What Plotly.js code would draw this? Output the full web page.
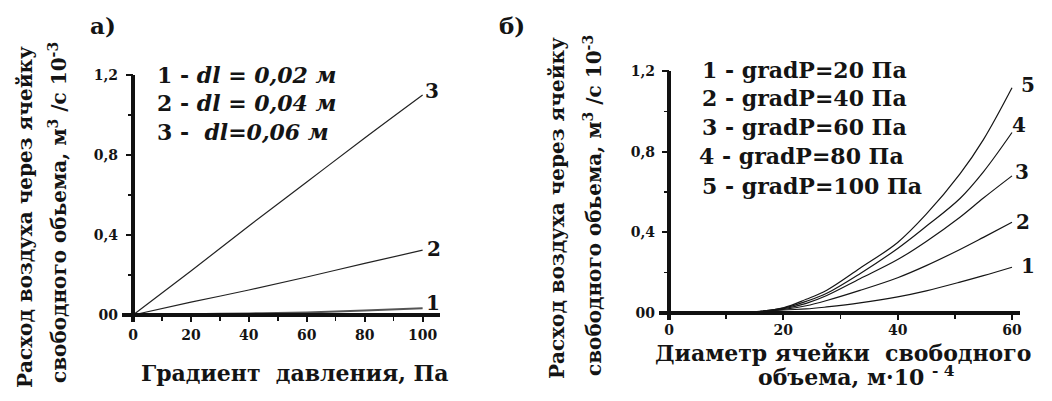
<!DOCTYPE html>
<html>
<head>
<meta charset="utf-8">
<script src="https://cdn.plot.ly/plotly-3.0.1.min.js"></script>
<style>
html,body{margin:0;padding:0;background:#fff;}
#wrap{position:relative;width:1052px;height:401px;}
#chart{width:1052px;height:401px;}
#frame{position:absolute;left:0;top:0;width:1052px;height:401px;pointer-events:none;}
#frame div{position:absolute;background:#111;}
</style>
</head>
<body>
<div id="wrap"><div id="chart"></div><div id="frame"></div></div>
<script>
// ---- Data ----
// Panel a): flow vs pressure gradient
const gradX = [0, 20, 40, 60, 80, 100];
const flowDl002 = [0, 0.004, 0.008, 0.013, 0.022, 0.034];
const flowDl004 = [0, 0.064, 0.125, 0.19, 0.258, 0.324];
const flowDl006 = [0, 0.22, 0.445, 0.665, 0.885, 1.10];
const legendA = ["1 - ", "2 - ", "3 -  "];
const legendAItalic = ["dl = 0,02 м", "dl = 0,04 м", "dl=0,06 м"];

// Panel б): flow vs free-volume cell diameter
const diamX = [13, 20, 24, 27.6, 33.4, 40, 45, 50.9, 55, 60];
const flowP20 = [0, 0.015, 0.02, 0.03, 0.05, 0.08, 0.11, 0.153, 0.185, 0.227];
const flowP40 = [0, 0.018, 0.036, 0.062, 0.112, 0.175, 0.235, 0.315, 0.375, 0.45];
const flowP60 = [0, 0.021, 0.048, 0.087, 0.17, 0.265, 0.355, 0.475, 0.57, 0.68];
const flowP80 = [0, 0.024, 0.058, 0.098, 0.195, 0.32, 0.43, 0.568, 0.70, 0.895];
const flowP100 = [0, 0.026, 0.068, 0.113, 0.222, 0.35, 0.49, 0.69, 0.86, 1.117];
const legendB = ["1 - gradP=20 Па", "2 - gradP=40 Па", "3 - gradP=60 Па", "4 - gradP=80 Па", "5 - gradP=100 Па"];

const yTickVals = [0, 0.4, 0.8, 1.2];
const yTickText = ["00", "0,4", "0,8", "1,2"];
const yMinorVals = [0.2, 0.6, 1.0];
const xTickValsA = [0, 20, 40, 60, 80, 100];
const xMinorValsA = [10, 30, 50, 70, 90];
const xTickValsB = [0, 20, 40, 60];
const xMinorValsB = [10, 30, 50];

// ---- Styling ----
const W = 1052, H = 401;
const SERIF = '"DejaVu Serif", "Liberation Serif", serif';
const INK = '#141414';
const fx = p => p / W;
const fy = p => 1 - p / H;

// plot-area geometry (px) and axis ranges (the area includes room for the axis frame)
const PA = {x0: 122, x1: 440, y0: 75, y1: 322, xr: [-3.8, 106], yr: [-0.035, 1.2]};
const PB = {x0: 659, x1: 1020, y0: 71, y1: 320, xr: [-1.75, 61.4], yr: [-0.0347, 1.2]};

function curve(x, y, xa, ya, color, width) {
  return {x: x, y: y, xaxis: xa, yaxis: ya, type: 'scatter', mode: 'lines',
          line: {color: color, width: width, shape: 'spline', smoothing: 1}, hoverinfo: 'skip'};
}

const traces = [
  curve(gradX, flowDl002, 'x', 'y', '#555', 2),
  curve(gradX, flowDl004, 'x', 'y', '#222', 1.2),
  curve(gradX, flowDl006, 'x', 'y', '#222', 1.2),
  curve(diamX, flowP20, 'x2', 'y2', '#151515', 1.2),
  curve(diamX, flowP40, 'x2', 'y2', '#151515', 1.2),
  curve(diamX, flowP60, 'x2', 'y2', '#151515', 1.2),
  curve(diamX, flowP80, 'x2', 'y2', '#151515', 1.2),
  curve(diamX, flowP100, 'x2', 'y2', '#151515', 1.2)
];

const tickFont = {family: SERIF, size: 14, color: INK, weight: 'bold'};

function xAxis(P, anchor, vals, standoff) {
  return {
    domain: [fx(P.x0), fx(P.x1)], range: P.xr, anchor: anchor,
    showline: false, ticks: '',
    tickmode: 'array', tickvals: vals, ticktext: vals.map(String),
    ticklabelstandoff: standoff,
    showgrid: false, zeroline: false, tickfont: tickFont
  };
}
function yAxis(P, anchor) {
  return {
    domain: [fy(P.y1), fy(P.y0)], range: P.yr, anchor: anchor,
    showline: false, ticks: '',
    tickmode: 'array', tickvals: yTickVals, ticktext: yTickText,
    ticklabelstandoff: 3,
    showgrid: false, zeroline: false, tickfont: tickFont
  };
}

function txt(text, xpx, ypx, size, opts) {
  return Object.assign({
    text: text, x: fx(xpx), y: fy(ypx), xref: 'paper', yref: 'paper',
    showarrow: false, xanchor: 'center', yanchor: 'middle',
    font: {family: SERIF, size: size, color: INK, weight: 'bold'}
  }, opts || {});
}

const annotations = [
  txt('а)', 103, 26, 23),
  txt('б)', 512, 26, 23),
  ...legendA.map((p, i) => txt('<b>' + p + '</b><b><i>' + legendAItalic[i] + '</i></b>', 155, [75, 103, 132][i], 22, {xanchor: 'left'})),
  ...legendB.map((t, i) => txt(t, [700, 700, 700, 697, 700][i], [70, 98, 127, 156, 186][i], 22, {xanchor: 'left'})),
  txt('3', 432, 91, 20), txt('2', 434, 249, 20), txt('1', 433, 303, 20),
  txt('5', 1028, 85, 20), txt('4', 1019, 125, 20), txt('3', 1022, 172, 20),
  txt('2', 1023, 222, 20), txt('1', 1028, 266, 20),
  txt('Расход воздуха через ячейку', 25, 217, 20, {textangle: -90}),
  txt('свободного обьема, м<sup>3</sup> /с 10<sup>-3</sup>', 58, 213, 20, {textangle: -90}),
  txt('Градиент  давления, Па', 295, 373, 22),
  txt('Расход воздуха через ячейку', 557, 208, 20, {textangle: -90}),
  txt('свободного обьема, м<sup>3</sup> /с 10<sup>-3</sup>', 593, 206, 20, {textangle: -90}),
  txt('Диаметр ячейки  свободного', 843, 353, 22),
  txt('объема, м·10 <sup>- 4</sup>', 856, 376, 22)
];

const layout = {
  width: W, height: H,
  margin: {l: 0, r: 0, t: 0, b: 0},
  showlegend: false,
  xaxis: xAxis(PA, 'y', xTickValsA, 3),
  yaxis: yAxis(PA, 'x'),
  xaxis2: xAxis(PB, 'y2', xTickValsB, 0),
  yaxis2: yAxis(PB, 'x2'),
  annotations: annotations
};

// Axis frame (lines through the origin + major/minor ticks), placed with Plotly's own axis scales
function drawFrame(gd) {
  const fl = gd._fullLayout;
  const frame = document.getElementById('frame');
  const box = (l, t, w, h) => {
    const d = document.createElement('div');
    d.style.left = l + 'px'; d.style.top = t + 'px';
    d.style.width = w + 'px'; d.style.height = h + 'px';
    frame.appendChild(d);
  };
  const panel = (xa, ya, xMaj, xMin) => {
    const px = v => xa._offset + xa.l2p(v);
    const py = v => ya._offset + ya.l2p(v);
    const X0 = px(0), Y0 = py(0);
    const LW = 3.5;
    // axis lines
    box(px(xa.range[0]), Y0 - LW / 2, px(xa.range[1]) - px(xa.range[0]), LW);
    box(X0 - LW / 2, py(1.2), LW, py(ya.range[0]) - py(1.2));
    // x ticks
    xMaj.forEach(v => box(px(v) - 1, Y0, 2, 7));
    xMin.forEach(v => box(px(v) - 0.75, Y0, 1.5, 5.5));
    // y ticks
    yTickVals.forEach(v => box(X0 - 7.5, py(v) - 1, 7.5, 2));
    yMinorVals.forEach(v => box(X0 - 5.5, py(v) - 0.75, 5.5, 1.5));
  };
  panel(fl.xaxis, fl.yaxis, xTickValsA, xMinorValsA);
  panel(fl.xaxis2, fl.yaxis2, xTickValsB, xMinorValsB);
}

Plotly.newPlot('chart', traces, layout, {staticPlot: true}).then(drawFrame);
</script>
</body>
</html>
